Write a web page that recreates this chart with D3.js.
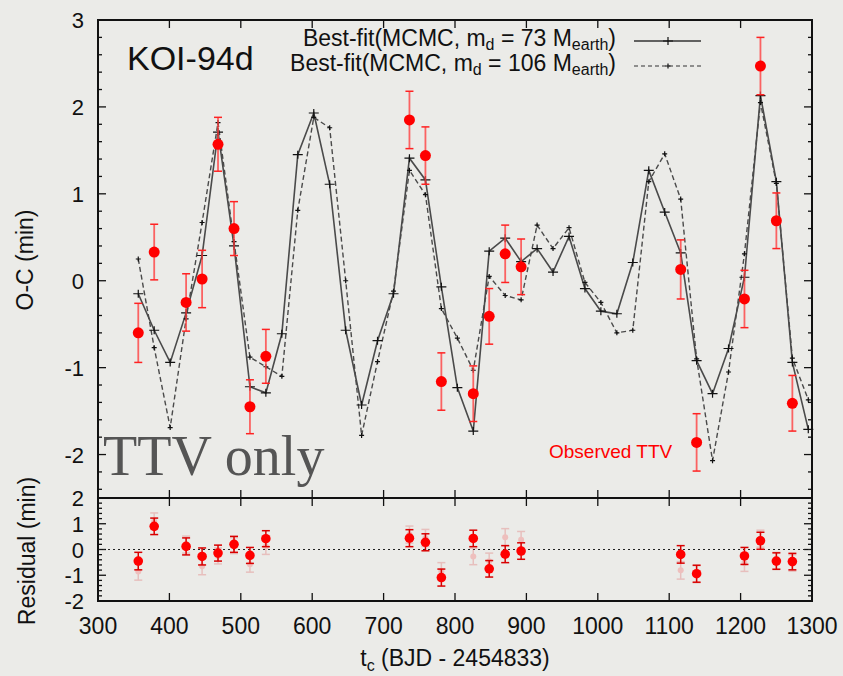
<!DOCTYPE html>
<html>
<head>
<meta charset="utf-8">
<script src="https://cdn.jsdelivr.net/npm/d3@7"></script>
<style>
  body { margin: 0; background: #ebebe8; }
  svg { display: block; font-family: "Liberation Sans", Arial, Helvetica, sans-serif; }
</style>
</head>
<body>
<div id="chart"></div>
<script>
// observed transit times and O-C values
var tObs = [356.4, 378.7, 423.4, 445.8, 468.1, 490.5, 512.8, 535.1, 736.2, 758.6, 780.9,
            825.6, 847.9, 870.3, 892.6, 1116.1, 1138.4, 1205.4, 1227.8, 1250.1, 1272.5];
var ocObs = [-0.60, 0.33, -0.25, 0.02, 1.57, 0.60, -1.45, -0.87, 1.85, 1.44, -1.16,
             -1.30, -0.41, 0.31, 0.16, 0.13, -1.86, -0.21, 2.47, 0.69, -1.41];
var ocErr = [0.34, 0.32, 0.33, 0.33, 0.31, 0.31, 0.31, 0.31, 0.33, 0.33, 0.33,
             0.32, 0.32, 0.33, 0.32, 0.34, 0.33, 0.33, 0.33, 0.32, 0.32];

// model epochs
var tModel = [356.4, 378.7, 401.1, 423.4, 445.8, 468.1, 490.5, 512.8, 535.1, 557.5, 579.8,
              602.2, 624.5, 646.9, 669.2, 691.5, 713.9, 736.2, 758.6, 780.9, 803.3, 825.6,
              847.9, 870.3, 892.6, 915.0, 937.3, 959.7, 982.0, 1004.3, 1026.7, 1049.0, 1071.4,
              1093.7, 1116.1, 1138.4, 1160.7, 1183.1, 1205.4, 1227.8, 1250.1, 1272.5, 1294.8];
// best fit, m_d = 73 M_earth (solid)
var fit73 = [-0.15, -0.57, -0.94, -0.37, 0.29, 1.71, 0.40, -1.22, -1.29, -0.61, 1.45,
             1.93, 1.11, -0.57, -1.43, -0.69, -0.15, 1.41, 1.16, -0.07, -1.23, -1.73,
             0.34, 0.49, 0.22, 0.37, 0.10, 0.51, -0.09, -0.35, -0.38, 0.21, 1.27,
             0.79, 0.32, -0.92, -1.30, -0.78, 0.04, 2.13, 1.14, -0.94, -1.71];
// best fit, m_d = 106 M_earth (dashed)
var fit106 = [0.25, -0.77, -1.69, -0.44, 0.67, 1.82, 0.45, -0.88, -0.99, -1.10, 0.81,
              1.88, 1.76, 0.00, -1.78, -0.93, -0.12, 1.27, 0.99, -0.32, -0.66, -1.03,
              0.05, -0.17, -0.22, 0.64, 0.37, 0.61, -0.02, -0.25, -0.60, -0.57, 1.14,
              1.46, 0.94, -0.90, -2.07, -1.05, 0.31, 2.05, 1.12, -0.89, -1.37];

// residuals
var res73 = [-0.45, 0.90, 0.12, -0.27, -0.14, 0.20, -0.23, 0.42, 0.44, 0.28, -1.09,
             0.43, -0.75, -0.18, -0.06, -0.19, -0.94, -0.25, 0.34, -0.45, -0.47];
var res106 = [-0.85, 1.10, 0.19, -0.65, -0.25, 0.15, -0.57, 0.12, 0.58, 0.45, -0.84,
              -0.27, -0.46, 0.48, 0.38, -0.81, -0.96, -0.52, 0.42, -0.43, -0.52];

var xTicks = [300, 400, 500, 600, 700, 800, 900, 1000, 1100, 1200, 1300];
var yTicksMain = [-2, -1, 0, 1, 2, 3];
var yTicksRes = [-2, -1, 0, 1, 2];

var width = 843, height = 676;
var pLeft = 98, pRight = 812, pTop = 20, pMid = 498, pBottom = 601;

var svg = d3.select("#chart").append("svg")
  .attr("width", width)
  .attr("height", height);

svg.append("rect").attr("width", width).attr("height", height).attr("fill", "#ebebe8");

var x = d3.scaleLinear().domain([300, 1300]).range([pLeft, pRight]);
var y = d3.scaleLinear().domain([-2.5, 3]).range([pMid, pTop]);
var yr = d3.scaleLinear().domain([-2, 2]).range([pBottom, pMid]);

// minor ticks every 0.2
function minorTicks(lo, hi) {
  var out = [];
  for (var v = Math.round(lo * 5); v <= Math.round(hi * 5); v++) {
    if (v % 5 != 0) out.push(v / 5);
  }
  return out;
}

function drawYTicks(scale, majors, lo, hi) {
  var g = svg.append("g").attr("stroke", "#111").attr("stroke-width", 1.3);
  majors.forEach(function(v) {
    g.append("line").attr("x1", pLeft).attr("x2", pLeft + 8).attr("y1", scale(v)).attr("y2", scale(v));
    g.append("line").attr("x1", pRight).attr("x2", pRight - 8).attr("y1", scale(v)).attr("y2", scale(v));
  });
  minorTicks(lo, hi).forEach(function(v) {
    g.append("line").attr("x1", pLeft).attr("x2", pLeft + 4).attr("y1", scale(v)).attr("y2", scale(v));
    g.append("line").attr("x1", pRight).attr("x2", pRight - 4).attr("y1", scale(v)).attr("y2", scale(v));
  });
}
drawYTicks(y, yTicksMain, -2.5, 3);
drawYTicks(yr, yTicksRes, -2, 2);

// x ticks (inward) on both panels
var xt = svg.append("g").attr("stroke", "#111").attr("stroke-width", 1.3);
xTicks.forEach(function(v) {
  [[pTop, 8], [pMid, -8], [pMid, 8], [pBottom, -8]].forEach(function(p) {
    xt.append("line").attr("x1", x(v)).attr("x2", x(v)).attr("y1", p[0]).attr("y2", p[0] + p[1]);
  });
});

// tick labels
svg.append("g").selectAll("text").data(xTicks).enter().append("text")
  .attr("x", function(d) { return x(d); })
  .attr("y", 634)
  .attr("text-anchor", "middle")
  .attr("font-size", 23)
  .attr("fill", "#111")
  .text(function(d) { return d; });

svg.append("g").selectAll("text").data(yTicksMain).enter().append("text")
  .attr("x", 84)
  .attr("y", function(d) { return y(d) + 8; })
  .attr("text-anchor", "end")
  .attr("font-size", 22)
  .attr("fill", "#111")
  .text(function(d) { return d; });

svg.append("g").selectAll("text").data(yTicksRes).enter().append("text")
  .attr("x", 84)
  .attr("y", function(d) { return yr(d) + 8; })
  .attr("text-anchor", "end")
  .attr("font-size", 22)
  .attr("fill", "#111")
  .text(function(d) { return d; });

// axis titles
svg.append("text")
  .attr("transform", "translate(33,260) rotate(-90)")
  .attr("text-anchor", "middle")
  .attr("font-size", 23)
  .attr("fill", "#111")
  .text("O-C (min)");

svg.append("text")
  .attr("transform", "translate(35,551) rotate(-90)")
  .attr("text-anchor", "middle")
  .attr("font-size", 23)
  .attr("fill", "#111")
  .text("Residual (min)");

var xl = svg.append("text")
  .attr("x", 455)
  .attr("y", 666)
  .attr("text-anchor", "middle")
  .attr("font-size", 23)
  .attr("fill", "#111");
xl.append("tspan").text("t");
xl.append("tspan").attr("font-size", 16).attr("dy", 5).text("c");
xl.append("tspan").attr("dy", -5).text(" (BJD - 2454833)");

// zero line in residual panel
svg.append("line")
  .attr("x1", pLeft).attr("x2", pRight)
  .attr("y1", yr(0)).attr("y2", yr(0))
  .attr("stroke", "#222").attr("stroke-width", 1)
  .attr("stroke-dasharray", "2,3");

// "TTV only" label
svg.append("text")
  .attr("x", 103).attr("y", 475)
  .attr("font-family", "'Liberation Serif', 'DejaVu Serif', serif")
  .attr("font-size", 56)
  .attr("fill", "#555")
  .text("TTV only");

// model lines
var line = d3.line()
  .x(function(d) { return x(d[0]); })
  .y(function(d) { return y(d[1]); });

var solidData = d3.zip(tModel, fit73);
var dashData = d3.zip(tModel, fit106);

svg.append("path")
  .datum(dashData)
  .attr("d", line)
  .attr("fill", "none")
  .attr("stroke", "#4a4a4a")
  .attr("stroke-width", 1.4)
  .attr("stroke-dasharray", "5,3");

svg.append("path")
  .datum(solidData)
  .attr("d", line)
  .attr("fill", "none")
  .attr("stroke", "#4a4a4a")
  .attr("stroke-width", 1.6);

function plus(g, px, py, w, h, sw) {
  g.append("path")
    .attr("d", "M" + (px - w) + "," + py + "H" + (px + w) + "M" + px + "," + (py - h) + "V" + (py + h))
    .attr("stroke", "#111")
    .attr("stroke-width", sw)
    .attr("fill", "none");
}

var mk = svg.append("g");
dashData.forEach(function(d) { plus(mk, x(d[0]), y(d[1]), 2.5, 2.5, 1.2); });
solidData.forEach(function(d) { plus(mk, x(d[0]), y(d[1]), 5, 4, 1.2); });

// observed points
var obs = svg.append("g");
tObs.forEach(function(t, i) {
  var px = x(t), y1 = y(ocObs[i] + ocErr[i]), y2 = y(ocObs[i] - ocErr[i]);
  obs.append("line").attr("x1", px).attr("x2", px).attr("y1", y1).attr("y2", y2)
    .attr("stroke", "#ff4040").attr("stroke-opacity", 0.8).attr("stroke-width", 1.8);
  [y1, y2].forEach(function(yy) {
    obs.append("line").attr("x1", px - 4).attr("x2", px + 4).attr("y1", yy).attr("y2", yy)
      .attr("stroke", "#f22").attr("stroke-width", 1.5);
  });
  obs.append("circle").attr("cx", px).attr("cy", y(ocObs[i])).attr("r", 5.5).attr("fill", "#ff0000");
});

// residuals: faded (106) then full (73)
function drawRes(vals, opacity, r) {
  var g = svg.append("g").attr("opacity", opacity);
  tObs.forEach(function(t, i) {
    var px = x(t), y1 = yr(vals[i] + ocErr[i]), y2 = yr(vals[i] - ocErr[i]);
    g.append("line").attr("x1", px).attr("x2", px).attr("y1", y1).attr("y2", y2)
      .attr("stroke", "#d80000").attr("stroke-width", 1.5);
    [y1, y2].forEach(function(yy) {
      g.append("line").attr("x1", px - 4).attr("x2", px + 4).attr("y1", yy).attr("y2", yy)
        .attr("stroke", "#d80000").attr("stroke-width", 1.5);
    });
    g.append("circle").attr("cx", px).attr("cy", yr(vals[i])).attr("r", r).attr("fill", "#ff0000");
  });
}
drawRes(res106, 0.18, 3);
drawRes(res73, 1, 4.8);

// frames
svg.append("rect").attr("x", pLeft).attr("y", pTop).attr("width", pRight - pLeft).attr("height", pMid - pTop)
  .attr("fill", "none").attr("stroke", "#111").attr("stroke-width", 2);
svg.append("rect").attr("x", pLeft).attr("y", pMid).attr("width", pRight - pLeft).attr("height", pBottom - pMid)
  .attr("fill", "none").attr("stroke", "#111").attr("stroke-width", 2);

// title
svg.append("text")
  .attr("x", 127).attr("y", 70)
  .attr("font-size", 34)
  .attr("fill", "#111")
  .text("KOI-94d");

// legend
function legendText(yy, mass) {
  var t = svg.append("text")
    .attr("x", 616).attr("y", yy)
    .attr("text-anchor", "end")
    .attr("font-size", 23)
    .attr("fill", "#111");
  t.append("tspan").text("Best-fit(MCMC, m");
  t.append("tspan").attr("font-size", 16).attr("dy", 4).text("d");
  t.append("tspan").attr("dy", -4).text(" = " + mass + " M");
  t.append("tspan").attr("font-size", 16).attr("dy", 4).text("earth");
  t.append("tspan").attr("dy", -4).text(")");
}
legendText(46, 73);
legendText(71, 106);

svg.append("line").attr("x1", 634).attr("x2", 701).attr("y1", 41).attr("y2", 41)
  .attr("stroke", "#333").attr("stroke-width", 1.4);
plus(svg, 668, 41, 5, 4, 1.2);
svg.append("line").attr("x1", 634).attr("x2", 701).attr("y1", 66).attr("y2", 66)
  .attr("stroke", "#333").attr("stroke-width", 1.2).attr("stroke-dasharray", "4,3");
plus(svg, 668, 66, 2.5, 2.5, 1.2);

svg.append("text")
  .attr("x", 549).attr("y", 458)
  .attr("font-size", 19)
  .attr("fill", "#ff0000")
  .text("Observed TTV");
</script>
</body>
</html>
